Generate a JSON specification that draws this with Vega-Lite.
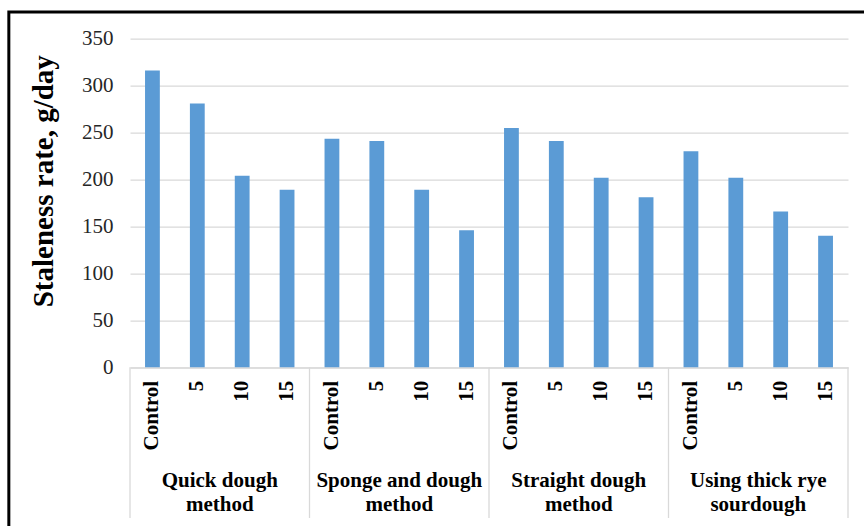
{
  "$schema": "https://vega.github.io/schema/vega-lite/v6.json",
  "width": 718,
  "height": 328.6,
  "autosize": {"type": "none"},
  "padding": {"left": 130, "top": 38.7, "right": 16, "bottom": 158.7},
  "background": "white",
  "config": {"view": {"stroke": null}, "font": "Liberation Serif"},
  "datasets": {
    "bars": [
      {"key": "Q|Control", "group": "Quick dough method", "level": "Control", "rate": 316},
      {"key": "Q|5", "group": "Quick dough method", "level": "5", "rate": 281},
      {"key": "Q|10", "group": "Quick dough method", "level": "10", "rate": 204},
      {"key": "Q|15", "group": "Quick dough method", "level": "15", "rate": 189},
      {"key": "S|Control", "group": "Sponge and dough method", "level": "Control", "rate": 243.5},
      {"key": "S|5", "group": "Sponge and dough method", "level": "5", "rate": 241},
      {"key": "S|10", "group": "Sponge and dough method", "level": "10", "rate": 189},
      {"key": "S|15", "group": "Sponge and dough method", "level": "15", "rate": 146},
      {"key": "T|Control", "group": "Straight dough method", "level": "Control", "rate": 255},
      {"key": "T|5", "group": "Straight dough method", "level": "5", "rate": 241},
      {"key": "T|10", "group": "Straight dough method", "level": "10", "rate": 202},
      {"key": "T|15", "group": "Straight dough method", "level": "15", "rate": 181},
      {"key": "U|Control", "group": "Using thick rye sourdough", "level": "Control", "rate": 230},
      {"key": "U|5", "group": "Using thick rye sourdough", "level": "5", "rate": 202},
      {"key": "U|10", "group": "Using thick rye sourdough", "level": "10", "rate": 166},
      {"key": "U|15", "group": "Using thick rye sourdough", "level": "15", "rate": 140}
    ],
    "groups": [
      {"key": "Q|10", "label": "Quick dough\nmethod"},
      {"key": "S|10", "label": "Sponge and dough\nmethod"},
      {"key": "T|10", "label": "Straight dough\nmethod"},
      {"key": "U|10", "label": "Using thick rye\nsourdough"}
    ]
  },
  "layer": [
    {
      "data": {"values": [{}]},
      "mark": {"type": "rect", "filled": false, "stroke": "#000000", "strokeWidth": 3},
      "encoding": {
        "x": {"datum": -2.7, "type": "quantitative", "scale": {"domain": [0, 16]}, "axis": null},
        "x2": {"datum": 16.6},
        "y": {"datum": 378.4, "type": "quantitative", "scale": {"domain": [0, 350]}},
        "y2": {"datum": -190}
      }
    },
    {
      "layer": [
        {
          "data": {"name": "bars"},
          "mark": {"type": "bar", "color": "#5B9BD5"},
          "encoding": {
            "x": {
              "field": "key",
              "type": "nominal",
              "sort": null,
              "scale": {
                "domain": ["Q|Control", "Q|5", "Q|10", "Q|15", "S|Control", "S|5", "S|10", "S|15", "T|Control", "T|5", "T|10", "T|15", "U|Control", "U|5", "U|10", "U|15"],
                "paddingInner": 0.67,
                "paddingOuter": 0.335
              },
              "axis": {
                "title": null,
                "labelExpr": "split(datum.value, '|')[1]",
                "labelAngle": -90,
                "labelFont": "Liberation Serif",
                "labelFontWeight": "bold",
                "labelFontSize": 21,
                "labelColor": "#000000",
                "labelPadding": 13,
                "ticks": false,
                "tickSize": 0,
                "domainColor": "#D9D9D9",
                "domainWidth": 1.2,
                "grid": false
              }
            },
            "y": {
              "field": "rate",
              "type": "quantitative",
              "scale": {"domain": [0, 350]},
              "axis": {
                "title": "Staleness rate, g/day",
                "titleFont": "Liberation Serif",
                "titleFontSize": 29,
                "titleFontWeight": "bold",
                "titleColor": "#000000",
                "titleX": -72,
                "titleY": 142,
                "values": [0, 50, 100, 150, 200, 250, 300, 350],
                "labelFont": "Liberation Serif",
                "labelFontSize": 21,
                "labelColor": "#262626",
                "labelPadding": 17,
                "ticks": false,
                "tickSize": 0,
                "domain": false,
                "grid": true,
                "gridColor": "#D9D9D9",
                "gridWidth": 1.3
              }
            }
          }
        },
        {
          "data": {"name": "bars"},
          "transform": [{"filter": "datum.level === 'Control'"}],
          "mark": {"type": "rule", "color": "#D9D9D9", "strokeWidth": 1.3},
          "encoding": {
            "x": {"field": "key", "type": "nominal", "bandPosition": -1.01515},
            "y": {"datum": 0, "type": "quantitative"},
            "y2": {"datum": -160.5}
          }
        },
        {
          "data": {"name": "bars"},
          "transform": [{"filter": "datum.key === 'U|15'"}],
          "mark": {"type": "rule", "color": "#D9D9D9", "strokeWidth": 1.3},
          "encoding": {
            "x": {"field": "key", "type": "nominal", "bandPosition": 2.01515},
            "y": {"datum": 0, "type": "quantitative"},
            "y2": {"datum": -160.5}
          }
        },
        {
          "data": {"name": "groups"},
          "mark": {"type": "text", "font": "Liberation Serif", "fontWeight": "bold", "fontSize": 21, "color": "#000000", "lineBreak": "\n", "lineHeight": 24, "align": "center", "baseline": "middle"},
          "encoding": {
            "x": {"field": "key", "type": "nominal", "bandPosition": -1.01515},
            "y": {"datum": -121.1, "type": "quantitative"},
            "text": {"field": "label"}
          }
        }
      ]
    }
  ],
  "resolve": {"scale": {"x": "independent"}}
}
